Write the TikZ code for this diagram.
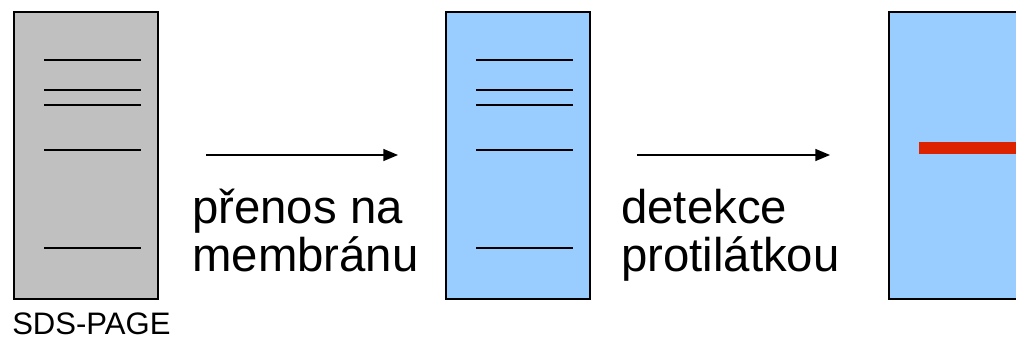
\documentclass[tikz,border=0pt]{standalone}
\usepackage{fontspec}
\setmainfont{Liberation Sans}
\usetikzlibrary{arrows.meta}
\definecolor{gelgray}{HTML}{C0C0C0}
\definecolor{membblue}{HTML}{99CCFF}
\definecolor{blotred}{HTML}{DD2200}
\tikzset{
  lane/.style={draw=black, line width=1.2pt, minimum width=108pt, minimum height=215.25pt, inner sep=0pt},
  band/.style={line width=1pt},
  thickband/.style={line width=1.5pt},
  stepline/.style={line width=1pt, -{Triangle[length=11pt,width=9pt]}},
  caption/.style={font=\fontsize{35.5}{35.5}\selectfont, align=left, inner sep=0pt, anchor=base west}
}
\begin{document}
\begin{tikzpicture}[x=0.75pt,y=-0.75pt]
    \useasboundingbox (0,0) rectangle (1016,339);
    \clip (0,0) rectangle (1016,339);
    % gel, membrane and blot
    \node[lane, fill=gelgray] (gel) at (86,155.5) {};
    \node[lane, fill=membblue] (membrane) at (518,155.5) {};
    \node[lane, fill=membblue] (blot) at (961,155.5) {};
    % protein bands
    \foreach \y in {60,105,150,248} {
        \draw[band] (44,\y) -- (141,\y);
        \draw[band] (476,\y) -- (573,\y);
    }
    \draw[thickband] (44,90) -- (141,90);
    \draw[thickband] (476,90) -- (573,90);
    \draw[blotred, line width=9pt] (919,148) -- (1030,148);
    % steps
    \coordinate (transferstart) at (206,155);
    \coordinate (transferend) at (398,155);
    \coordinate (detectstart) at (637,155);
    \coordinate (detectend) at (830,155);
    \draw[stepline] (transferstart) -- (transferend);
    \draw[stepline] (detectstart) -- (detectend);
    \node[caption] (transfer) at (192,271) {přenos na\\membránu};
    \node[caption] (detection) at (621,271) {detekce\\protilátkou};
    \node[font=\fontsize{23.3}{23.3}\selectfont, inner sep=0pt, text depth=0pt, anchor=base west] (sdspage) at (12,334) {SDS-PAGE};
\end{tikzpicture}
\end{document}
